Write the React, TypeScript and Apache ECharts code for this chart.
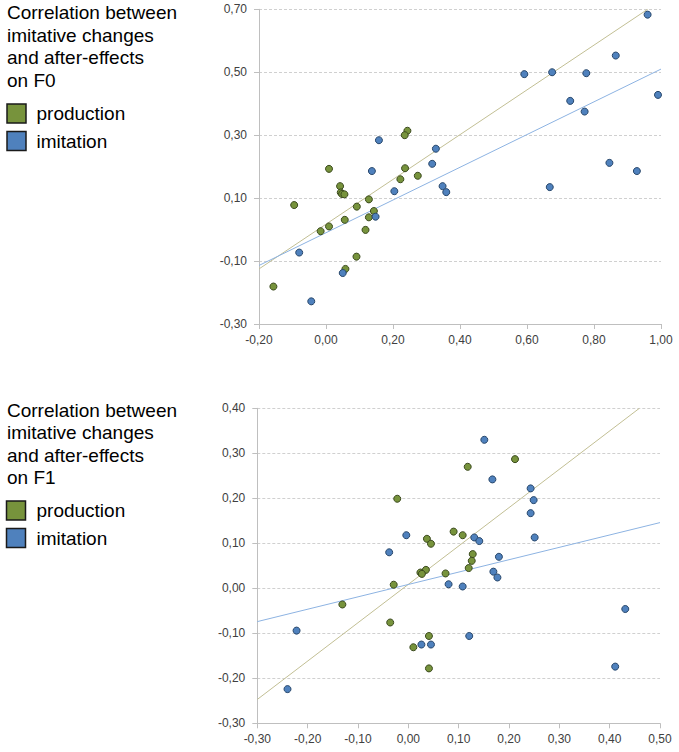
import React, { useEffect, useRef } from "react";
import * as echarts from "echarts";

// ---- Chart 1: F0 ----
const f0Production: [number, number][] = [
  [0.243, 0.314], [0.235, 0.300], [0.009, 0.193], [0.236, 0.195], [0.274, 0.171],
  [0.222, 0.160], [0.042, 0.138], [0.044, 0.118], [0.048, 0.113], [0.055, 0.112],
  [-0.095, 0.078], [0.092, 0.073], [0.128, 0.096], [0.143, 0.059], [0.128, 0.039],
  [0.056, 0.031], [0.009, 0.010], [-0.016, -0.005], [0.118, -0.001], [0.091, -0.086],
  [0.058, -0.125], [-0.157, -0.181],
];
const f0Imitation: [number, number][] = [
  [0.960, 0.683], [0.865, 0.553], [0.592, 0.494], [0.675, 0.500], [0.777, 0.497],
  [0.729, 0.409], [0.772, 0.375], [0.991, 0.428], [0.158, 0.284], [0.328, 0.257],
  [0.317, 0.209], [0.137, 0.186], [0.846, 0.212], [0.928, 0.186], [0.204, 0.122],
  [0.348, 0.138], [0.359, 0.119], [0.668, 0.135], [0.148, 0.041], [-0.080, -0.073],
  [0.050, -0.138], [-0.044, -0.228],
];
const f0ProductionTrend: [number, number][] = [[-0.2, -0.125], [0.96, 0.70]];
const f0ImitationTrend: [number, number][] = [[-0.2, -0.114], [1.0, 0.51]];

// ---- Chart 2: F1 ----
const f1Production: [number, number][] = [
  [0.212, 0.287], [0.118, 0.270], [-0.022, 0.199], [0.090, 0.126], [0.108, 0.118],
  [0.037, 0.110], [0.045, 0.099], [0.128, 0.076], [0.126, 0.061], [0.120, 0.045],
  [0.035, 0.041], [0.024, 0.035], [0.027, 0.032], [0.074, 0.033], [-0.029, 0.008],
  [-0.131, -0.036], [-0.036, -0.076], [0.041, -0.106], [0.010, -0.131], [0.041, -0.178],
];
const f1Imitation: [number, number][] = [
  [0.151, 0.330], [0.167, 0.242], [0.243, 0.222], [0.249, 0.196], [0.243, 0.167],
  [0.251, 0.113], [-0.004, 0.118], [-0.038, 0.080], [0.131, 0.113], [0.141, 0.105],
  [0.180, 0.070], [0.169, 0.037], [0.177, 0.024], [0.080, 0.009], [0.108, 0.004],
  [0.431, -0.046], [-0.222, -0.094], [0.026, -0.125], [0.045, -0.125], [0.121, -0.106],
  [0.411, -0.174], [-0.240, -0.224],
];
const f1ProductionTrend: [number, number][] = [[-0.3, -0.247], [0.459, 0.40]];
const f1ImitationTrend: [number, number][] = [[-0.3, -0.074], [0.5, 0.146]];

const titleTop = "Correlation between\nimitative changes\nand after-effects\non F0";
const titleBottom = "Correlation between\nimitative changes\nand after-effects\non F1";
const legendNames = ["production", "imitation"];

const GREEN = "#77933c";
const GREEN_BORDER = "#3b4a1e";
const BLUE = "#4f81bd";
const BLUE_BORDER = "#28476b";
const GREEN_LINE = "#c2bf94";
const BLUE_LINE = "#8db3e2";
const AXIS_GRAY = "#bfbfbf";
const LABEL_COLOR = "#404040";

const fmt = (v: number) => (Math.round(v * 100) / 100).toFixed(2).replace(".", ",");

function makeXAxis(gridIndex: number, min: number, max: number, interval: number) {
  return {
    type: "value" as const,
    gridIndex,
    min,
    max,
    interval,
    axisLine: { show: true, onZero: false, lineStyle: { color: AXIS_GRAY, width: 1 } },
    axisTick: { show: true, length: 5, inside: false, lineStyle: { color: AXIS_GRAY } },
    axisLabel: {
      formatter: fmt,
      color: LABEL_COLOR,
      fontSize: 12,
      fontFamily: "Liberation Sans",
      margin: 10,
    },
    splitLine: { show: false },
  };
}

function makeYAxis(gridIndex: number, min: number, max: number, interval: number) {
  return {
    type: "value" as const,
    gridIndex,
    min,
    max,
    interval,
    axisLine: { show: true, onZero: false, lineStyle: { color: AXIS_GRAY, width: 1 } },
    axisTick: { show: true, length: 5, inside: false, lineStyle: { color: AXIS_GRAY } },
    axisLabel: {
      formatter: fmt,
      color: LABEL_COLOR,
      fontSize: 12,
      fontFamily: "Liberation Sans",
      margin: 12,
    },
    splitLine: { show: true, lineStyle: { color: "#d0d0d0", type: [3, 2] as any, width: 1 } },
  };
}

function scatter(name: string, data: [number, number][], idx: number, color: string, border: string) {
  return {
    name,
    type: "scatter" as const,
    xAxisIndex: idx,
    yAxisIndex: idx,
    data,
    symbol: "circle",
    symbolSize: 7,
    z: 3,
    itemStyle: { color, borderColor: border, borderWidth: 1, opacity: 1 },
  };
}

function trend(data: [number, number][], idx: number, color: string) {
  return {
    type: "line" as const,
    xAxisIndex: idx,
    yAxisIndex: idx,
    data,
    showSymbol: false,
    symbol: "none",
    z: 2,
    silent: true,
    lineStyle: { color, width: 1 },
  };
}

function legendGraphic(titleText: string, titleY: number, box1Y: number, box2Y: number, boxX: number) {
  const textStyle = { fontSize: 19, fontFamily: "Liberation Sans", fill: "#000" };
  return [
    {
      type: "text",
      left: 7,
      top: titleY,
      style: { ...textStyle, text: titleText, lineHeight: 22.5 },
    },
    {
      type: "rect",
      shape: { x: boxX, y: box1Y, width: 19, height: 19 },
      style: { fill: GREEN, stroke: "#1a1a1a", lineWidth: 1.5 },
    },
    {
      type: "text",
      x: 36.5,
      y: box1Y + 9.5,
      style: { ...textStyle, text: legendNames[0], verticalAlign: "middle" },
    },
    {
      type: "rect",
      shape: { x: boxX, y: box2Y, width: 19, height: 19 },
      style: { fill: BLUE, stroke: "#1a1a1a", lineWidth: 1.5 },
    },
    {
      type: "text",
      x: 36.5,
      y: box2Y + 9.5,
      style: { ...textStyle, text: legendNames[1], verticalAlign: "middle" },
    },
  ];
}

export default function App() {
  const ref = useRef<HTMLDivElement>(null);

  useEffect(() => {
    if (!ref.current) return;
    const chart = echarts.init(ref.current, undefined, { renderer: "svg" });
    chart.setOption({
      animation: false,
      backgroundColor: "#ffffff",
      grid: [
        { left: 259, right: 18, top: 9.3, height: 314.7 },
        { left: 257.3, right: 19, top: 408.3, height: 315 },
      ],
      xAxis: [makeXAxis(0, -0.2, 1.0, 0.2), makeXAxis(1, -0.3, 0.5, 0.1)],
      yAxis: [makeYAxis(0, -0.3, 0.7, 0.2), makeYAxis(1, -0.3, 0.4, 0.1)],
      graphic: [
        ...legendGraphic(titleTop, 1.5, 104, 131.5, 7),
        ...legendGraphic(titleBottom, 398.8, 501, 528.5, 6.5),
      ],
      series: [
        trend(f0ProductionTrend, 0, GREEN_LINE),
        trend(f0ImitationTrend, 0, BLUE_LINE),
        scatter("production", f0Production, 0, GREEN, GREEN_BORDER),
        scatter("imitation", f0Imitation, 0, BLUE, BLUE_BORDER),
        trend(f1ProductionTrend, 1, GREEN_LINE),
        trend(f1ImitationTrend, 1, BLUE_LINE),
        scatter("production", f1Production, 1, GREEN, GREEN_BORDER),
        scatter("imitation", f1Imitation, 1, BLUE, BLUE_BORDER),
      ],
    });
    return () => chart.dispose();
  }, []);

  return (
    <div
      ref={ref}
      style={{ position: "fixed", left: 0, top: 0, width: 679, height: 752, background: "#fff" }}
    />
  );
}
